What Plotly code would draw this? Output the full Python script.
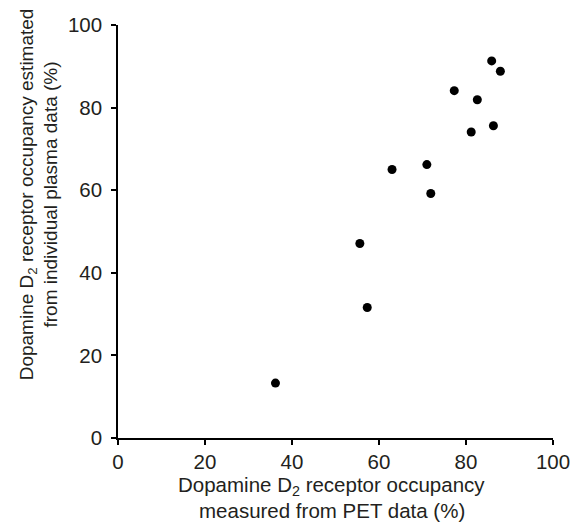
import plotly.graph_objects as go

pet_occupancy = [36.2, 55.6, 57.3, 63.0, 71.0, 71.9, 77.3, 81.2, 82.6, 85.9, 86.3, 87.9]
plasma_occupancy = [13.3, 47.1, 31.6, 65.0, 66.2, 59.2, 84.1, 74.1, 81.9, 91.3, 75.6, 88.8]
tick_vals = [0, 20, 40, 60, 80, 100]

TXT = "#231F20"
FONT = "Liberation Sans, Arial, sans-serif"

fig = go.Figure()
fig.add_trace(go.Scatter(
    x=pet_occupancy, y=plasma_occupancy, mode="markers",
    marker=dict(color="black", size=9, line=dict(width=0)),
    showlegend=False, hoverinfo="skip",
))

axis_common = dict(
    range=[0, 100], tickvals=tick_vals, showgrid=False, zeroline=False,
    showline=True, linecolor="black", linewidth=1.5,
    ticks="outside", ticklen=5, tickwidth=1.5, tickcolor="black",
    tickfont=dict(family=FONT, size=20.5, color=TXT), fixedrange=True,
)

fig.update_layout(
    width=581, height=525, autosize=False,
    margin=dict(l=118, r=27.5, t=24.5, b=87, pad=0),
    plot_bgcolor="white", paper_bgcolor="white",
    xaxis=dict(**axis_common),
    yaxis=dict(**axis_common, ticklabelstandoff=5),
    font=dict(family=FONT, color=TXT),
    annotations=[
        dict(text="Dopamine D<sub>2</sub> receptor occupancy",
             xref="paper", yref="paper", x=0.491, y=0, xanchor="center", yanchor="middle",
             yshift=-48, showarrow=False, font=dict(family=FONT, size=20.5, color=TXT)),
        dict(text="measured from PET data (%)",
             xref="paper", yref="paper", x=0.491, y=0, xanchor="center", yanchor="middle",
             yshift=-72, showarrow=False, font=dict(family=FONT, size=20.5, color=TXT)),
        dict(text="Dopamine D<sub>2</sub> receptor occupancy estimated<br>from individual plasma data (%)",
             xref="paper", yref="paper", x=0, y=0.59, xanchor="center", yanchor="middle",
             xshift=-79, textangle=-90, showarrow=False,
             font=dict(family=FONT, size=19, color=TXT)),
    ],
)

fig.write_html("out.html")
